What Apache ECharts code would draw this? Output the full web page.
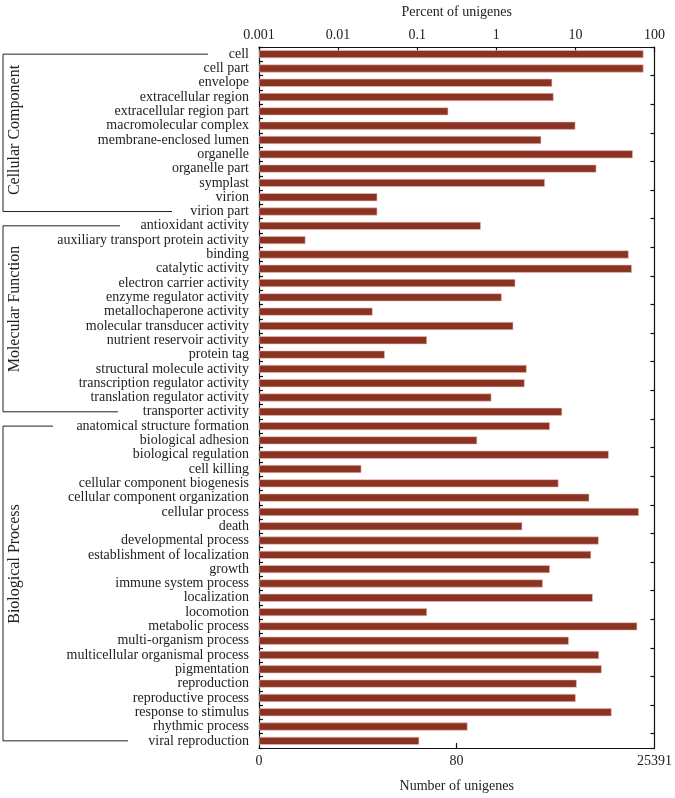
<!DOCTYPE html>
<html><head><meta charset="utf-8">
<script src="https://cdn.jsdelivr.net/npm/echarts@6/dist/echarts.min.js"></script>
<style>html,body{margin:0;padding:0;background:#fff}#c{width:675px;height:798px}</style>
</head><body><div id="c"></div>
<script>
const categories = [
  'cell','cell part','envelope','extracellular region','extracellular region part','macromolecular complex',
  'membrane-enclosed lumen','organelle','organelle part','symplast','virion','virion part',
  'antioxidant activity','auxiliary transport protein activity','binding','catalytic activity',
  'electron carrier activity','enzyme regulator activity','metallochaperone activity',
  'molecular transducer activity','nutrient reservoir activity','protein tag','structural molecule activity',
  'transcription regulator activity','translation regulator activity','transporter activity',
  'anatomical structure formation','biological adhesion','biological regulation','cell killing',
  'cellular component biogenesis','cellular component organization','cellular process','death',
  'developmental process','establishment of localization','growth','immune system process',
  'localization','locomotion','metabolic process','multi-organism process',
  'multicellular organismal process','pigmentation','reproduction','reproductive process',
  'response to stimulus','rhythmic process','viral reproduction'
];
// percent of unigenes
const percentValues = [
  72.6, 72.6, 5.09, 5.30, 0.247, 10.0, 3.70, 53.3, 18.4, 4.12, 0.0313, 0.0313,
  0.638, 0.00387, 47.1, 51.8, 1.74, 1.17, 0.0273, 1.64, 0.133, 0.039, 2.42, 2.28, 0.867, 6.80,
  4.76, 0.573, 26.4, 0.0197, 6.12, 15.0, 63.4, 2.13, 19.7, 15.8, 4.76, 3.88, 16.6, 0.133,
  60.5, 8.26, 19.9, 21.5, 10.4, 10.1, 28.7, 0.433, 0.106
];
const groupNames = ['Cellular Component','Molecular Function','Biological Process'];
const groupFirst = ['cell','antioxidant activity','anatomical structure formation'];
const groupLast = ['virion part','transporter activity','viral reproduction'];
const percentTicks = [0.001, 0.01, 0.1, 1, 10, 100];
const totalUnigenes = 25391;
const countTicks = [0, 80, 25391];

const FONT = '"Liberation Serif", "Times New Roman", serif';
const TXT = '#222';
const pMin = percentTicks[0], pMax = percentTicks[percentTicks.length - 1];
// log axis in units of the minimum percent, so that bars start at the axis origin (value 1)
const toAxis = p => p / pMin;
const fromAxis = v => v * pMin;
const countToAxis = c => Math.max(1, toAxis(c / totalUnigenes * 100));

const chart = echarts.init(document.getElementById('c'), null, {renderer: 'canvas'});
const lineStyle = {color: '#111', width: 1.2};
chart.setOption({
  backgroundColor: '#fff',
  animation: false,
  grid: {left: 259, right: 19, top: 44, bottom: 46},
  xAxis: [{
    type: 'log', position: 'top', min: toAxis(pMin), max: toAxis(pMax), logBase: 10,
    name: 'Percent of unigenes', nameLocation: 'middle', nameGap: 28,
    nameTextStyle: {fontFamily: FONT, fontSize: 14, color: TXT},
    axisLine: {show: true, lineStyle},
    axisTick: {show: true, inside: true, length: 5, lineStyle},
    splitLine: {show: false}, minorTick: {show: false},
    axisLabel: {fontFamily: FONT, fontSize: 14, color: TXT, margin: 5,
      formatter: v => String(+fromAxis(+v).toPrecision(3))}
  }, {
    type: 'log', position: 'bottom', min: toAxis(pMin), max: toAxis(pMax), logBase: 10,
    name: 'Number of unigenes', nameLocation: 'middle', nameGap: 31,
    nameTextStyle: {fontFamily: FONT, fontSize: 14, color: TXT},
    axisLine: {show: true, lineStyle},
    axisTick: {show: true, inside: true, length: 5, lineStyle, customValues: [countToAxis(countTicks[1])]},
    splitLine: {show: false},
    axisLabel: {fontFamily: FONT, fontSize: 14, color: TXT, margin: 6,
      customValues: countTicks.map(countToAxis),
      formatter: v => String(Math.round(fromAxis(v) * totalUnigenes / 100))}
  }],
  yAxis: [{
    type: 'category', data: categories, inverse: true, position: 'left',
    axisLine: {show: true, lineStyle},
    axisTick: {show: true, inside: true, length: 4, lineStyle},
    axisLabel: {fontFamily: FONT, fontSize: 14, color: TXT, margin: 10, interval: 0}
  }, {
    type: 'category', data: categories, inverse: true, position: 'right',
    axisLine: {show: true, lineStyle},
    axisTick: {show: true, inside: true, length: 4, lineStyle},
    axisLabel: {show: false}
  }],
  series: [{
    type: 'bar', xAxisIndex: 0, yAxisIndex: 0, data: percentValues.map(toAxis),
    barWidth: 8,
    itemStyle: {color: '#8b3323', borderColor: '#efc3b5', borderWidth: 0.6}
  }]
});

// group brackets
const bx = 3;
const endX = [[208, 172], [120, 118], [53, 128]];
const labelY = [130, 309, 564];
const graphics = [];
groupNames.forEach((g, i) => {
  const y1 = chart.convertToPixel({yAxisIndex: 0}, groupFirst[i]);
  const y2 = chart.convertToPixel({yAxisIndex: 0}, groupLast[i]);
  graphics.push({type: 'polyline', shape: {points: [[endX[i][0], y1], [bx, y1], [bx, y2], [endX[i][1], y2]]},
    style: {stroke: '#222', lineWidth: 1, fill: null}});
  graphics.push({type: 'text', x: 15, y: labelY[i], rotation: Math.PI / 2,
    style: {text: g, font: '16px ' + FONT, fill: TXT, align: 'center', verticalAlign: 'middle'}});
});
chart.setOption({graphic: graphics});
</script></body></html>
